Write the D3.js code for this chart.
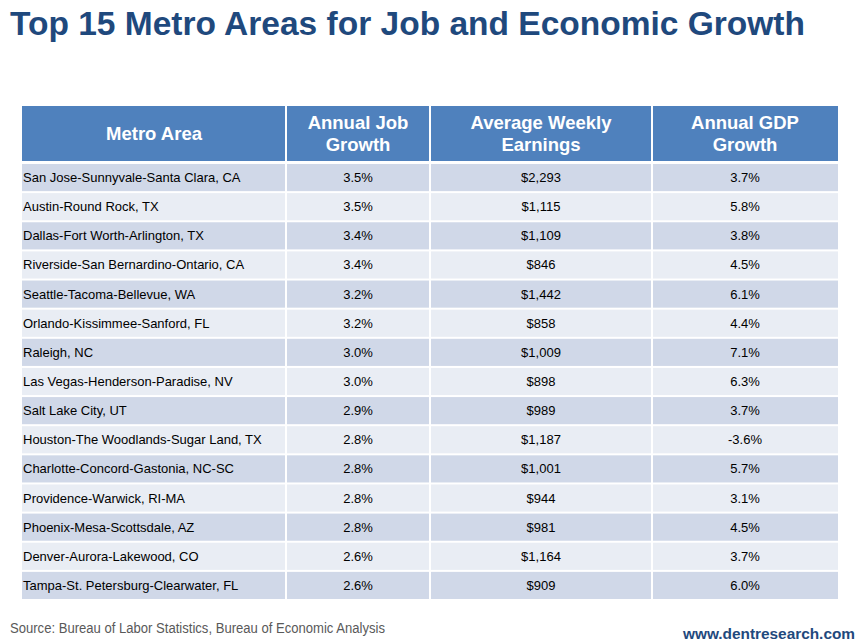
<!DOCTYPE html>
<html><head><meta charset="utf-8">
<script src="https://cdn.jsdelivr.net/npm/d3@7"></script>
<style>body{margin:0;background:#fff}svg{display:block}</style>
</head><body>
<script>
const title = "Top 15 Metro Areas for Job and Economic Growth";
const headers = [["Metro Area"], ["Annual Job", "Growth"], ["Average Weekly", "Earnings"], ["Annual GDP", "Growth"]];
const metros = ["San Jose-Sunnyvale-Santa Clara, CA","Austin-Round Rock, TX","Dallas-Fort Worth-Arlington, TX","Riverside-San Bernardino-Ontario, CA","Seattle-Tacoma-Bellevue, WA","Orlando-Kissimmee-Sanford, FL","Raleigh, NC","Las Vegas-Henderson-Paradise, NV","Salt Lake City, UT","Houston-The Woodlands-Sugar Land, TX","Charlotte-Concord-Gastonia, NC-SC","Providence-Warwick, RI-MA","Phoenix-Mesa-Scottsdale, AZ","Denver-Aurora-Lakewood, CO","Tampa-St. Petersburg-Clearwater, FL"];
const jobGrowth = ["3.5%","3.5%","3.4%","3.4%","3.2%","3.2%","3.0%","3.0%","2.9%","2.8%","2.8%","2.8%","2.8%","2.6%","2.6%"];
const weeklyEarnings = ["$2,293","$1,115","$1,109","$846","$1,442","$858","$1,009","$898","$989","$1,187","$1,001","$944","$981","$1,164","$909"];
const gdpGrowth = ["3.7%","5.8%","3.8%","4.5%","6.1%","4.4%","7.1%","6.3%","3.7%","-3.6%","5.7%","3.1%","4.5%","3.7%","6.0%"];
const source = "Source: Bureau of Labor Statistics, Bureau of Economic Analysis";
const site = "www.dentresearch.com";

const W = 857, H = 643;
const svg = d3.select("body").append("svg").attr("width", W).attr("height", H);
const font = "Liberation Sans, Arial, sans-serif";

svg.append("text").attr("x", 10).attr("y", 35).attr("font-family", font)
  .attr("font-weight", "bold").attr("font-size", 33).attr("fill", "#1F497D")
  .attr("textLength", 795).attr("lengthAdjust", "spacingAndGlyphs").text(title);

const colEdges = [22, 286, 430, 652, 838];
const cols = d3.range(4);
const colX = i => colEdges[i], colW = i => colEdges[i+1] - colEdges[i];

const rows = d3.scaleBand().domain(d3.range(metros.length)).range([163, 600]).paddingInner(0);

// header
const hTop = 106, hBot = 161;
svg.append("g").selectAll("rect").data(cols).join("rect")
  .attr("x", i => colX(i) + (i ? 1 : 0)).attr("width", i => colW(i) - (i ? 1 : 0) - (i < 3 ? 1 : 0))
  .attr("y", hTop).attr("height", hBot - hTop).attr("fill", "#4F81BD");
const hg = svg.append("g");
cols.forEach(i => {
  const lines = headers[i];
  const cx = colX(i) + colW(i) / 2;
  const cy = (hTop + hBot) / 2;
  lines.forEach((t, k) => {
    hg.append("text").attr("x", cx).attr("y", cy + (k - (lines.length - 1) / 2) * 22 + 6.5)
      .attr("text-anchor", "middle").attr("font-family", font).attr("font-weight", "bold")
      .attr("font-size", 18.5).attr("fill", "#fff").text(t);
  });
});

// body
const tableData = metros.map((m, r) => [m, jobGrowth[r], weeklyEarnings[r], gdpGrowth[r]]);
const rowG = svg.append("g").selectAll("g").data(tableData).join("g")
  .attr("transform", (d, r) => `translate(0,${rows(r)})`);
rowG.each(function(d, r) {
  const g = d3.select(this);
  const h = rows.bandwidth();
  cols.forEach(i => {
    g.append("rect").attr("x", colX(i) + (i ? 1 : 0))
      .attr("width", colW(i) - (i ? 1 : 0) - (i < 3 ? 1 : 0))
      .attr("y", 1).attr("height", h - 2)
      .attr("fill", r % 2 === 0 ? "#D0D8E8" : "#E9EDF4");
    g.append("text")
      .attr("x", i === 0 ? colX(i) + 1 : colX(i) + colW(i) / 2)
      .attr("y", h / 2 + 4.5)
      .attr("text-anchor", i === 0 ? "start" : "middle")
      .attr("font-family", font).attr("font-size", 13).attr("fill", "#000").text(d[i]);
  });
});

svg.append("text").attr("x", 10).attr("y", 633).attr("font-family", font)
  .attr("font-size", 14).attr("fill", "#595959")
  .attr("textLength", 375).attr("lengthAdjust", "spacingAndGlyphs").text(source);
svg.append("text").attr("x", 683).attr("y", 639)
  .attr("font-family", font).attr("font-weight", "bold")
  .attr("font-size", 15.5).attr("fill", "#1F497D")
  .attr("textLength", 172).attr("lengthAdjust", "spacingAndGlyphs").text(site);
</script>
</body></html>
